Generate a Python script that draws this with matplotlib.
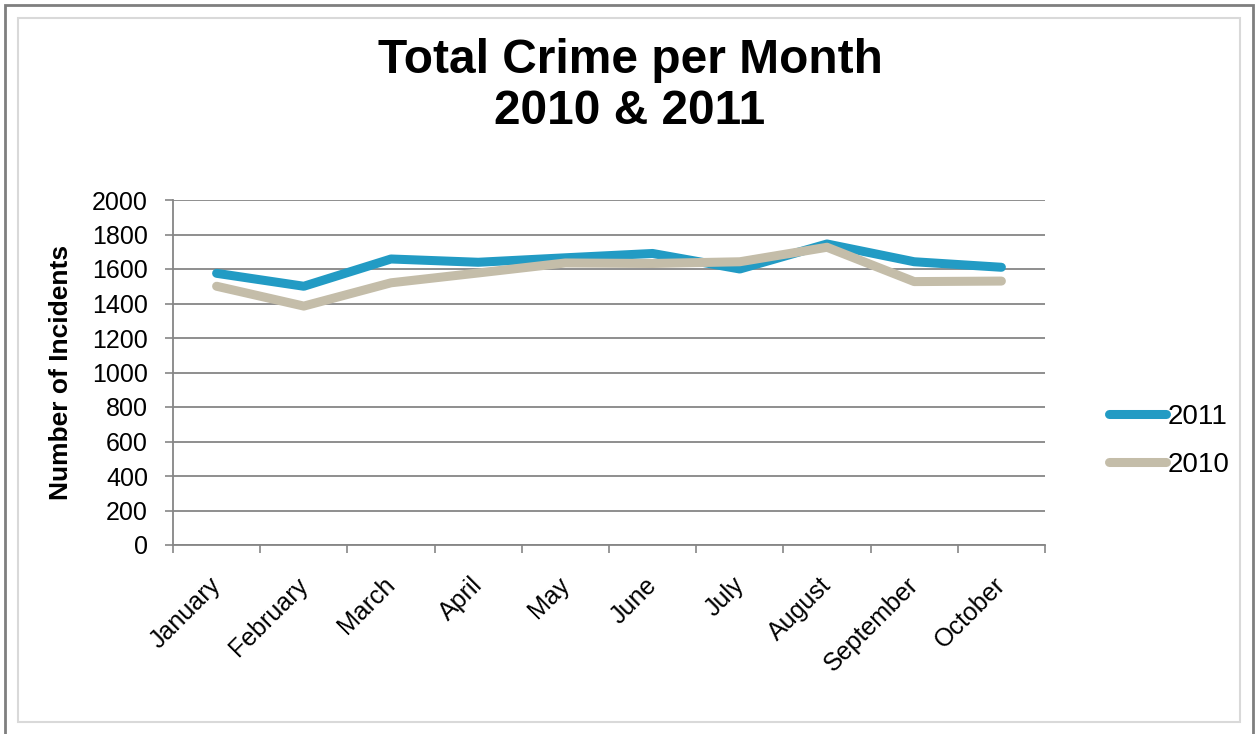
import matplotlib.pyplot as plt
import matplotlib.transforms as mtransforms
from matplotlib.patches import Rectangle

# data
months = ["January", "February", "March", "April", "May",
          "June", "July", "August", "September", "October"]
crime_2011 = [1575, 1500, 1658, 1639, 1665, 1690, 1600, 1745, 1642, 1610]
crime_2010 = [1500, 1385, 1520, 1577, 1635, 1632, 1642, 1726, 1527, 1530]
yticks = list(range(0, 2001, 200))

plt.rcParams['font.family'] = ['Liberation Sans', 'DejaVu Sans']

fig = plt.figure(figsize=(12.55, 7.34), dpi=100)
W, H = 1255, 734

# outer and inner frame
fig.patches.append(Rectangle((5 / W, -0.01), 1248 / W, 1 - 5 / H + 0.01,
                             transform=fig.transFigure, fill=False,
                             edgecolor='#7f7f7f', linewidth=2))
fig.patches.append(Rectangle((18 / W, 1 - 722 / H), 1222 / W, 704 / H,
                             transform=fig.transFigure, fill=False,
                             edgecolor='#d9d9d9', linewidth=1.5))

ax = fig.add_axes([173 / W, 1 - 545 / H, 872 / W, 345 / H])

x = list(range(len(months)))
l1, = ax.plot(x, crime_2011, color='#229bc4', linewidth=6.5,
              solid_capstyle='round', solid_joinstyle='round', label='2011', zorder=3)
l2, = ax.plot(x, crime_2010, color='#c4bda9', linewidth=6.5,
              solid_capstyle='round', solid_joinstyle='round', label='2010', zorder=4)

ax.set_xlim(-0.5, len(months) - 0.5)
ax.set_ylim(0, 2000)
ax.set_yticks(yticks)
ax.yaxis.grid(True, color='#868686', linewidth=1.3)
ax.set_axisbelow(True)

# category boundaries get the tick marks, labels sit in between
ax.set_xticks([i - 0.5 for i in range(len(months) + 1)])
ax.set_xticklabels([])
ax.set_xticks(x, minor=True)
ax.set_xticklabels(months, minor=True, rotation=45, ha='right',
                   rotation_mode='anchor', fontsize=18)
ax.tick_params(axis='x', which='minor', length=0, pad=20)
ax.tick_params(axis='x', which='major', length=6, color='#868686', width=1.2)
ax.tick_params(axis='y', length=6, color='#868686', width=1.2, labelsize=18, pad=12)

shift = mtransforms.ScaledTranslation(-8 / 100, 0, fig.dpi_scale_trans)
for lab in ax.get_xticklabels(minor=True):
    lab.set_transform(lab.get_transform() + shift)

for s in ['top', 'right']:
    ax.spines[s].set_visible(False)
for s in ['left', 'bottom']:
    ax.spines[s].set_color('#868686')
    ax.spines[s].set_linewidth(1.3)

ax.set_ylabel("Number of Incidents", fontsize=19, fontweight='bold', labelpad=14)

fig.text(630 / W, 1 - 86 / H, "Total Crime per Month\n2010 & 2011",
         ha='center', va='center', fontsize=34.5, fontweight='bold', linespacing=1.15)

fig.legend(handles=[l1, l2], loc='center left',
           bbox_to_anchor=(1084 / W, 1 - 441 / H), frameon=False,
           fontsize=20, handlelength=2.05, handletextpad=0.05, labelspacing=0.8)

fig.savefig("out.png", dpi=100)
